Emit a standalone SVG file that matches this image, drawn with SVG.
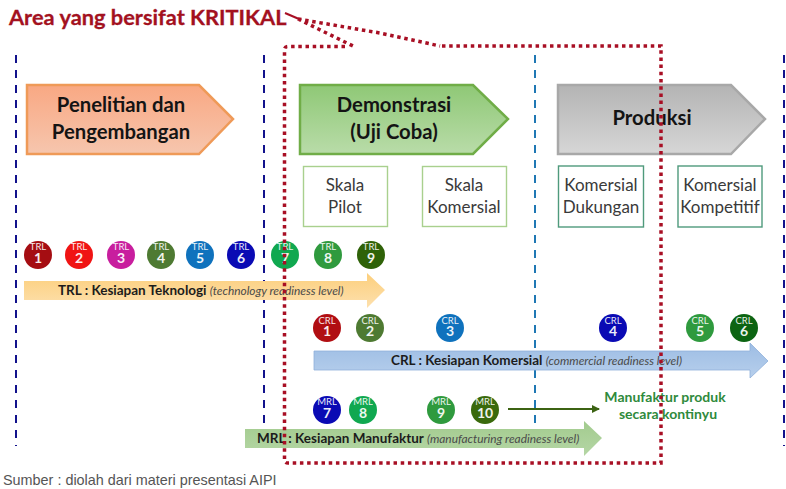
<svg xmlns="http://www.w3.org/2000/svg" width="786" height="489" viewBox="0 0 786 489">
<defs>
<linearGradient id="gO" x1="0" y1="0" x2="0" y2="1"><stop offset="0" stop-color="#f9a883"/><stop offset="1" stop-color="#f6c6ae"/></linearGradient>
<linearGradient id="gG" x1="0" y1="0" x2="0" y2="1"><stop offset="0" stop-color="#8fc876"/><stop offset="1" stop-color="#b9dca9"/></linearGradient>
<linearGradient id="gS" x1="0" y1="0" x2="0" y2="1"><stop offset="0" stop-color="#b4b4b4"/><stop offset="1" stop-color="#d6d6d6"/></linearGradient>
<linearGradient id="gT" x1="0" y1="0" x2="0" y2="1"><stop offset="0" stop-color="#fccf7c"/><stop offset="1" stop-color="#fde0ae"/></linearGradient>
<linearGradient id="gC" x1="0" y1="0" x2="0" y2="1"><stop offset="0" stop-color="#9dbde4"/><stop offset="1" stop-color="#b7cfec"/></linearGradient>
<linearGradient id="gM" x1="0" y1="0" x2="0" y2="1"><stop offset="0" stop-color="#a2cb8e"/><stop offset="1" stop-color="#b5d6a5"/></linearGradient>
<marker id="ah" markerWidth="8" markerHeight="8" refX="7" refY="4" orient="auto" markerUnits="userSpaceOnUse"><path d="M0,0 L8,4 L0,8 Z" fill="#3c6313"/></marker>
</defs>
<style>
text{font-family:"Lato","Open Sans","Liberation Sans",sans-serif}
.dn{fill:none;stroke:#12128c;stroke-width:2;stroke-dasharray:8 7}
.db{fill:none;stroke:#1f78b4;stroke-width:2;stroke-dasharray:8 7}
.red{fill:none;stroke:#a80f24;stroke-width:3.5;stroke-dasharray:3.5 3.7}
.ph{font-size:20.3px;font-weight:700;fill:#141414;text-anchor:middle}
.box{fill:#fff;stroke-width:1.4}
.bl{font-size:17px;fill:#3a3a3a;text-anchor:middle}
.ct{font-size:9.5px;fill:#fff;text-anchor:middle;opacity:.9}
.cn{font-size:14px;font-weight:700;fill:#fff;text-anchor:middle;opacity:.92}
.cb{font-size:13.5px;font-weight:700;fill:#1c1c1c}
.ci{font-size:11.9px;font-style:italic;fill:#4a4a4a}
.gt{font-size:14px;font-weight:700;fill:#2f8a3c;text-anchor:middle}
</style>

<g id="connectors">
<path class="dn" d="M16,55V446"/>
<path class="dn" d="M264,55V430"/>
<path class="db" d="M535,55V428"/>
<path class="dn" d="M784,55V446"/>
<path d="M508,409H599" stroke="#3c6313" stroke-width="2" fill="none" marker-end="url(#ah)"/>
</g>

<g id="phase-penelitian">
<path d="M27,85H199L233,119L199,154H27Z" fill="url(#gO)" stroke="#ef9a58" stroke-width="2.5"/>
<text class="ph" x="121" y="112">Penelitian dan</text>
<text class="ph" x="121" y="139">Pengembangan</text>
</g>
<g id="phase-demonstrasi">
<path d="M300,85H473L508,119L473,154H300Z" fill="url(#gG)" stroke="#70ad47" stroke-width="2.5"/>
<text class="ph" x="394" y="112">Demonstrasi</text>
<text class="ph" x="394" y="139">(Uji Coba)</text>
</g>
<g id="phase-produksi">
<path d="M558,85H731L765,119L731,154H558Z" fill="url(#gS)" stroke="#a8a8a8" stroke-width="2.5"/>
<text class="ph" x="652" y="125">Produksi</text>
</g>

<g id="box-skala-pilot"><rect class="box" x="303.500" y="166.500" width="84" height="60" stroke="#a9d08e"/><text class="bl" x="345" y="191">Skala</text><text class="bl" x="345" y="213">Pilot</text></g>
<g id="box-skala-komersial"><rect class="box" x="422.500" y="166.500" width="84" height="60" stroke="#a9d08e"/><text class="bl" x="464" y="191">Skala</text><text class="bl" x="464" y="213">Komersial</text></g>
<g id="box-komersial-dukungan"><rect class="box" x="558.500" y="166" width="85" height="61" stroke="#4f9a7c" stroke-width="2"/><text class="bl" x="601" y="191">Komersial</text><text class="bl" x="601" y="213">Dukungan</text></g>
<g id="box-komersial-kompetitif"><rect class="box" x="678" y="166" width="84" height="61" stroke="#4f9a7c" stroke-width="2"/><text class="bl" x="720" y="191">Komersial</text><text class="bl" x="720" y="213">Kompetitif</text></g>

<g id="bar-trl">
<path d="M24,281H367V273L385,290L367,308V300H24Z" fill="url(#gT)"/>
<text x="58" y="295"><tspan class="cb">TRL : Kesiapan Teknologi </tspan><tspan class="ci">(technology readiness level)</tspan></text>
</g>
<g id="bar-crl">
<path d="M314,351H750V343L768,361L750,378V370H314Z" fill="url(#gC)" stroke="#8fb0da" stroke-width=".8"/>
<text x="391" y="365"><tspan class="cb">CRL : Kesiapan Komersial </tspan><tspan class="ci">(commercial  readiness level)</tspan></text>
</g>
<g id="bar-mrl">
<path d="M245,429H584V421L602,438L584,456V448H245Z" fill="url(#gM)"/>
<text x="257" y="443"><tspan class="cb">MRL : Kesiapan Manufaktur </tspan><tspan class="ci">(manufacturing readiness level)</tspan></text>
</g>

<g id="trl-1"><circle cx="38" cy="255" r="14" fill="#a50d12"/><text class="ct" x="38" y="250">TRL</text><text class="cn" x="38" y="263">1</text></g>
<g id="trl-2"><circle cx="79" cy="255" r="14" fill="#f01414"/><text class="ct" x="79" y="250">TRL</text><text class="cn" x="79" y="263">2</text></g>
<g id="trl-3"><circle cx="121" cy="255" r="14" fill="#c81e9e"/><text class="ct" x="121" y="250">TRL</text><text class="cn" x="121" y="263">3</text></g>
<g id="trl-4"><circle cx="161" cy="255" r="14" fill="#4e7a32"/><text class="ct" x="161" y="250">TRL</text><text class="cn" x="161" y="263">4</text></g>
<g id="trl-5"><circle cx="200" cy="255" r="14" fill="#0f72bd"/><text class="ct" x="200" y="250">TRL</text><text class="cn" x="200" y="263">5</text></g>
<g id="trl-6"><circle cx="241" cy="255" r="14" fill="#0a0ab4"/><text class="ct" x="241" y="250">TRL</text><text class="cn" x="241" y="263">6</text></g>
<g id="trl-7"><circle cx="285" cy="255" r="14" fill="#10a850"/><text class="ct" x="285" y="250">TRL</text><text class="cn" x="285" y="263">7</text></g>
<g id="trl-8"><circle cx="328" cy="255" r="14" fill="#2f9a3e"/><text class="ct" x="328" y="250">TRL</text><text class="cn" x="328" y="263">8</text></g>
<g id="trl-9"><circle cx="371" cy="255" r="14" fill="#2f6208"/><text class="ct" x="371" y="250">TRL</text><text class="cn" x="371" y="263">9</text></g>

<g id="crl-1"><circle cx="327" cy="328" r="14" fill="#b10e12"/><text class="ct" x="327" y="324">CRL</text><text class="cn" x="327" y="336">1</text></g>
<g id="crl-2"><circle cx="370" cy="328" r="14" fill="#4e7a32"/><text class="ct" x="370" y="324">CRL</text><text class="cn" x="370" y="336">2</text></g>
<g id="crl-3"><circle cx="450" cy="328" r="14" fill="#0f72bd"/><text class="ct" x="450" y="324">CRL</text><text class="cn" x="450" y="336">3</text></g>
<g id="crl-4"><circle cx="613" cy="328" r="14" fill="#0a0ab4"/><text class="ct" x="613" y="324">CRL</text><text class="cn" x="613" y="336">4</text></g>
<g id="crl-5"><circle cx="700" cy="328" r="14" fill="#2f9a3e"/><text class="ct" x="700" y="324">CRL</text><text class="cn" x="700" y="336">5</text></g>
<g id="crl-6"><circle cx="744" cy="328" r="14" fill="#0c6412"/><text class="ct" x="744" y="324">CRL</text><text class="cn" x="744" y="336">6</text></g>

<g id="mrl-7"><circle cx="327" cy="410" r="14" fill="#0a0ab4"/><text class="ct" x="327" y="405">MRL</text><text class="cn" x="327" y="418">7</text></g>
<g id="mrl-8"><circle cx="363" cy="410" r="14" fill="#10a850"/><text class="ct" x="363" y="405">MRL</text><text class="cn" x="363" y="418">8</text></g>
<g id="mrl-9"><circle cx="441" cy="410" r="14" fill="#2f9a3e"/><text class="ct" x="441" y="405">MRL</text><text class="cn" x="441" y="418">9</text></g>
<g id="mrl-10"><circle cx="485" cy="410" r="14" fill="#3a6a0c"/><text class="ct" x="485" y="405">MRL</text><text class="cn" x="485" y="418">10</text></g>

<g id="note-manufaktur">
<text class="gt" x="665" y="402">Manufaktur produk</text>
<text class="gt" x="668" y="419">secara  kontinyu</text>
</g>

<g id="title"><text x="9" y="25" font-size="21.800" font-weight="700" fill="#a3111f" stroke="#a3111f" stroke-width=".3">Area yang bersifat KRITIKAL</text></g>
<g id="critical-area">
<path d="M285,13L299,19" stroke="#a80f24" stroke-width="2" fill="none"/>
<path class="red" d="M298,19L355,47M298,19L380,33L440,46"/>
<path class="red" d="M345,46.500H288Q284.500,46.500 284.500,50V460Q284.500,463 288,463H661V46H440"/>
</g>
<text x="3" y="485" font-size="14.400" fill="#555" style="font-family:'Liberation Sans',sans-serif">Sumber : diolah dari materi presentasi AIPI</text>
</svg>
